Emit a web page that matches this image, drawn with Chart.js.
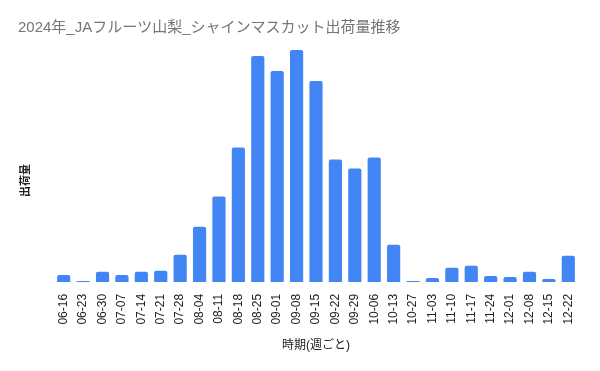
<!DOCTYPE html>
<html lang="ja">
<head>
    <meta charset="UTF-8">
    <title>シャインマスカット出荷量推移</title>
    <script src="https://cdn.jsdelivr.net/npm/chart.js"></script>
    <style>
        html, body { margin: 0; padding: 0; background: #fff; }
    </style>
</head>
<body>
    <canvas id="shipChart" width="600" height="371"></canvas>

    <script>
        const weeks = [
            '06-16', '06-23', '06-30', '07-07', '07-14', '07-21', '07-28',
            '08-04', '08-11', '08-18', '08-25', '09-01', '09-08', '09-15',
            '09-22', '09-29', '10-06', '10-13', '10-27', '11-03', '11-10',
            '11-17', '11-24', '12-01', '12-08', '12-15', '12-22'
        ];
        // 出荷量 (relative units)
        const shipments = [
            7, 1, 10, 7, 10, 11, 27,
            55, 85, 134, 225, 210, 231, 200,
            122, 113, 124, 37, 1, 4, 14,
            16, 6, 5, 10, 3, 26
        ];
        const yTitle = '出荷量';

        const fontFamily = "Arial, 'Liberation Sans', 'Noto Sans CJK JP', sans-serif";

        // y title sits centred on the whole canvas, not on the plot area
        const yTitlePlugin = {
            id: 'yTitle',
            afterDraw(chart) {
                const ctx = chart.ctx;
                ctx.save();
                ctx.translate(26, chart.height / 2 - 5);
                ctx.rotate(-Math.PI / 2);
                ctx.font = 'bold 11px ' + fontFamily;
                ctx.fillStyle = '#222';
                ctx.textAlign = 'center';
                ctx.textBaseline = 'middle';
                ctx.fillText(yTitle, 0, 0);
                ctx.restore();
            }
        };

        new Chart(document.getElementById('shipChart'), {
            type: 'bar',
            data: {
                labels: weeks,
                datasets: [{
                    label: yTitle,
                    data: shipments,
                    backgroundColor: '#4285F4',
                    borderRadius: 2,
                    borderSkipped: 'bottom',
                    barPercentage: 0.68,
                    categoryPercentage: 1.0
                }]
            },
            options: {
                responsive: false,
                animation: false,
                layout: {
                    padding: { left: 18, right: 22, top: 0, bottom: 18 }
                },
                plugins: {
                    legend: { display: false },
                    tooltip: { enabled: false },
                    title: {
                        display: true,
                        text: '2024年_JAフルーツ山梨_シャインマスカット出荷量推移',
                        align: 'start',
                        color: '#757575',
                        font: { family: fontFamily, size: 15, weight: 'normal' },
                        padding: { top: 19, bottom: 13 }
                    }
                },
                scales: {
                    x: {
                        grid: { display: false },
                        border: { display: false },
                        ticks: {
                            minRotation: 90,
                            maxRotation: 90,
                            autoSkip: false,
                            padding: 4,
                            color: '#222',
                            font: { family: fontFamily, size: 12 }
                        },
                        title: {
                            display: true,
                            text: '時期(週ごと)',
                            color: '#222',
                            font: { family: fontFamily, size: 12 },
                            padding: { top: 10, bottom: 0 }
                        }
                    },
                    y: {
                        min: 0,
                        max: 231,
                        grid: { display: false },
                        border: { display: false },
                        ticks: { display: false },
                        title: { display: false },
                        afterFit(scale) { scale.width = 36; }
                    }
                }
            },
            plugins: [yTitlePlugin]
        });
    </script>
</body>
</html>
